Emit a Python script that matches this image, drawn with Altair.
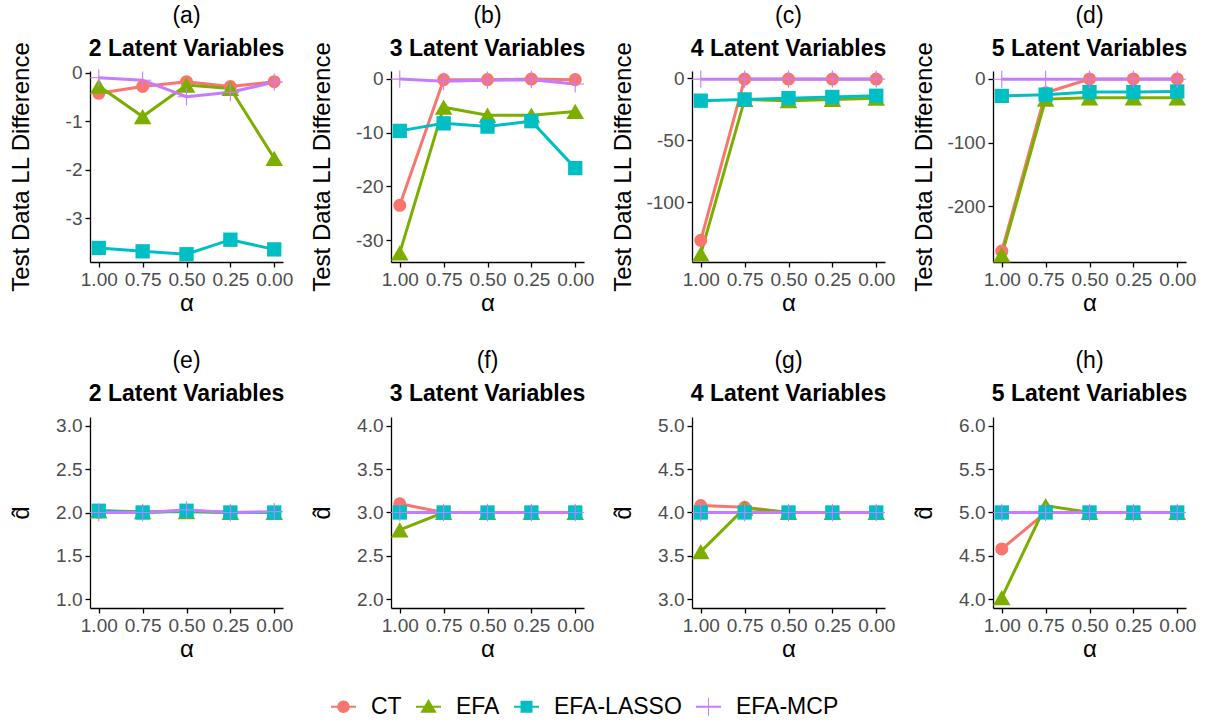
import altair as alt
import pandas as pd

# ---------------- data ----------------
alpha_levels = [1.0, 0.75, 0.5, 0.25, 0.0]
methods = ["CT", "EFA", "EFA-LASSO", "EFA-MCP"]
palette = ["#F8766D", "#7CAE00", "#00BFC4", "#C77CFF"]
top_letters = ["(a)", "(b)", "(c)", "(d)"]
bottom_letters = ["(e)", "(f)", "(g)", "(h)"]
panel_titles = ["2 Latent Variables", "3 Latent Variables", "4 Latent Variables", "5 Latent Variables"]

# Test data LL difference (top row), order of alpha_levels
ll_2_ct = [-0.42, -0.28, -0.18, -0.28, -0.18]
ll_2_efa = [-0.27, -0.90, -0.25, -0.32, -1.76]
ll_2_lasso = [-3.61, -3.68, -3.74, -3.44, -3.64]
ll_2_mcp = [-0.10, -0.15, -0.49, -0.40, -0.19]

ll_3_ct = [-23.5, -0.2, -0.2, -0.1, -0.2]
ll_3_efa = [-32.3, -5.3, -6.8, -6.8, -6.1]
ll_3_lasso = [-9.7, -8.3, -8.9, -7.9, -16.6]
ll_3_mcp = [-0.1, -0.5, -0.3, -0.2, -1.0]

ll_4_ct = [-131.0, -0.5, -0.5, -0.5, -0.5]
ll_4_efa = [-142.0, -17.0, -18.0, -17.0, -16.0]
ll_4_lasso = [-18.0, -17.0, -16.0, -15.0, -14.0]
ll_4_mcp = [-0.6, -0.6, -0.6, -0.6, -0.6]

ll_5_ct = [-270.0, -22.0, -0.5, -0.5, -0.5]
ll_5_efa = [-276.0, -32.0, -30.0, -30.0, -30.0]
ll_5_lasso = [-27.0, -25.0, -21.0, -21.0, -20.0]
ll_5_mcp = [-1.0, -1.0, -1.0, -1.0, -1.0]

# estimated number of latent variables d-hat (bottom row)
d_2_ct = [2.0, 2.0, 2.02, 2.0, 2.0]
d_2_efa = [2.02, 2.01, 2.01, 2.0, 2.0]
d_2_lasso = [2.02, 2.0, 2.02, 2.0, 2.0]
d_2_mcp = [2.0, 2.0, 2.03, 2.0, 2.01]

d_3_ct = [3.10, 3.0, 3.0, 3.0, 3.0]
d_3_efa = [2.80, 3.0, 3.0, 3.0, 3.0]
d_3_lasso = [3.0, 3.0, 3.0, 3.0, 3.0]
d_3_mcp = [3.0, 3.0, 3.0, 3.0, 3.0]

d_4_ct = [4.08, 4.06, 4.0, 4.0, 4.0]
d_4_efa = [3.55, 4.05, 4.0, 4.0, 4.0]
d_4_lasso = [4.0, 4.0, 4.0, 4.0, 4.0]
d_4_mcp = [4.0, 4.0, 4.0, 4.0, 4.0]

d_5_ct = [4.58, 5.0, 5.0, 5.0, 5.0]
d_5_efa = [4.02, 5.08, 5.0, 5.0, 5.0]
d_5_lasso = [5.0, 5.0, 5.0, 5.0, 5.0]
d_5_mcp = [5.0, 5.0, 5.0, 5.0, 5.0]

ll_series = [
    [ll_2_ct, ll_2_efa, ll_2_lasso, ll_2_mcp],
    [ll_3_ct, ll_3_efa, ll_3_lasso, ll_3_mcp],
    [ll_4_ct, ll_4_efa, ll_4_lasso, ll_4_mcp],
    [ll_5_ct, ll_5_efa, ll_5_lasso, ll_5_mcp],
]
d_series = [
    [d_2_ct, d_2_efa, d_2_lasso, d_2_mcp],
    [d_3_ct, d_3_efa, d_3_lasso, d_3_mcp],
    [d_4_ct, d_4_efa, d_4_lasso, d_4_mcp],
    [d_5_ct, d_5_efa, d_5_lasso, d_5_mcp],
]

ll_domains = [[-3.9, 0.04], [-34.0, 1.4], [-148.5, 6.0], [-287.0, 12.0]]
ll_ticks = [[0, -1, -2, -3], [0, -10, -20, -30], [0, -50, -100], [0, -100, -200]]
d_domains = [[0.9, 3.1], [1.9, 4.1], [2.9, 5.1], [3.9, 6.1]]
d_ticks = [[1.0, 1.5, 2.0, 2.5, 3.0], [2.0, 2.5, 3.0, 3.5, 4.0],
           [3.0, 3.5, 4.0, 4.5, 5.0], [4.0, 4.5, 5.0, 5.5, 6.0]]

# ---------------- styling ----------------
FONT = "Liberation Sans"
PW, PH = 193, 191

# legend keys: a line segment with the marker on top (all filled paths)
KEY_LINE = "M-1.25,-0.09H1.25V0.09H-1.25Z"
legend_paths = [
    KEY_LINE + "M0.62,0A0.62,0.62,0,1,1,-0.62,0A0.62,0.62,0,1,1,0.62,0Z",
    KEY_LINE + "M0,-0.78L0.82,0.6L-0.82,0.6Z",
    KEY_LINE + "M-0.6,-0.6H0.6V0.6H-0.6Z",
    KEY_LINE + "M-0.05,-0.9H0.05V0.9H-0.05Z",
]

legend = alt.Legend(
    orient="none",
    legendX=242,
    legendY=624,
    direction="horizontal",
    title=None,
    labelFont=FONT,
    labelFontSize=23,
    labelColor="black",
    symbolSize=400,
    symbolOpacity=1,
    symbolStrokeWidth=0,
    labelOffset=16,
    columnPadding=14,
)

color_scale = alt.Scale(domain=methods, range=palette)
color_nolegend = alt.Color("method:N", scale=color_scale, legend=None)
color_legend = alt.Color("method:N", scale=color_scale, legend=legend)
shape_legend = alt.Shape("method:N", scale=alt.Scale(domain=methods, range=legend_paths), legend=legend)


def panel(series, letter, title, ytitle, ydomain, yticks, ylabel_expr, with_legend, title_offset):
    rows = []
    for m, vals in zip(methods, series):
        for a, v in zip(alpha_levels, vals):
            rows.append({"alpha": a, "method": m, "value": v})
    df = pd.DataFrame(rows)
    base = alt.Chart(df)
    x = alt.X(
        "alpha:Q",
        scale=alt.Scale(domain=[-0.05, 1.05], reverse=True, nice=False, zero=False),
        axis=alt.Axis(values=alpha_levels, format=".2f", title="α", titlePadding=2),
    )
    y = alt.Y(
        "value:Q",
        scale=alt.Scale(domain=ydomain, nice=False, zero=False),
        axis=alt.Axis(values=yticks, labelExpr=ylabel_expr, title=ytitle,
                      minExtent=45, maxExtent=45, titlePadding=12),
    )
    lines = base.mark_line(strokeWidth=3).encode(x=x, y=y, color=color_nolegend, order="alpha:Q")
    ct = base.transform_filter(alt.datum.method == "CT").mark_point(
        shape="circle", filled=True, size=170, opacity=1).encode(x=x, y=y, color=color_nolegend)
    efa = base.transform_filter(alt.datum.method == "EFA").mark_point(
        shape="triangle-up", filled=True, size=310, opacity=1).encode(x=x, y=y, color=color_nolegend)
    lasso = base.transform_filter(alt.datum.method == "EFA-LASSO").mark_point(
        shape="square", filled=True, size=205, opacity=1).encode(x=x, y=y, color=color_nolegend)
    mcp = base.transform_filter(alt.datum.method == "EFA-MCP").mark_point(
        shape="M-1,0H1M0,-1V1", filled=False, size=300, strokeWidth=1.1, opacity=1
    ).encode(x=x, y=y, color=color_nolegend)
    layers = [lines, ct, efa, lasso, mcp]
    if with_legend:
        carrier = base.mark_point(filled=True, size=400, opacity=0).encode(
            x=x, y=y, color=color_legend, shape=shape_legend)
        layers.insert(0, carrier)
    return alt.layer(*layers).properties(
        width=PW,
        height=PH,
        title=alt.TitleParams(
            text=letter,
            subtitle=title,
            anchor="middle",
            frame="group",
            font=FONT,
            fontSize=23,
            fontWeight="normal",
            color="black",
            subtitleFont=FONT,
            subtitleFontSize=23,
            subtitleFontWeight="bold",
            subtitleColor="black",
            subtitlePadding=10,
            offset=title_offset,
        ),
    )


top = [
    panel(ll_series[i], top_letters[i], panel_titles[i], "Test Data LL Difference",
          ll_domains[i], ll_ticks[i], "toString(datum.value)", i == 0, -20)
    for i in range(4)
]
bottom = [
    panel(d_series[i], bottom_letters[i], panel_titles[i], "d\u0302",
          d_domains[i], d_ticks[i], "format(datum.value, '.1f')", False, 11)
    for i in range(4)
]

chart = (
    alt.concat(*top, *bottom, columns=4, spacing={"row": 155, "column": 108}, bounds="flush")
    .resolve_scale(y="independent", x="independent", color="shared", shape="shared")
    .properties(padding={"left": 8, "top": 5, "right": 5, "bottom": 5}, background="white")
    .configure_view(stroke=None)
    .configure_axis(
        grid=False,
        domainColor="black",
        domainWidth=1.3,
        tickColor="black",
        tickWidth=1.3,
        tickSize=5,
        labelFont=FONT,
        labelFontSize=19,
        labelColor="#4D4D4D",
        labelPadding=3,
        titleFont=FONT,
        titleFontSize=24,
        titleFontWeight="normal",
        titleColor="black",
    )
)

chart.save("out.html", embed_options={"renderer": "svg", "actions": False})
